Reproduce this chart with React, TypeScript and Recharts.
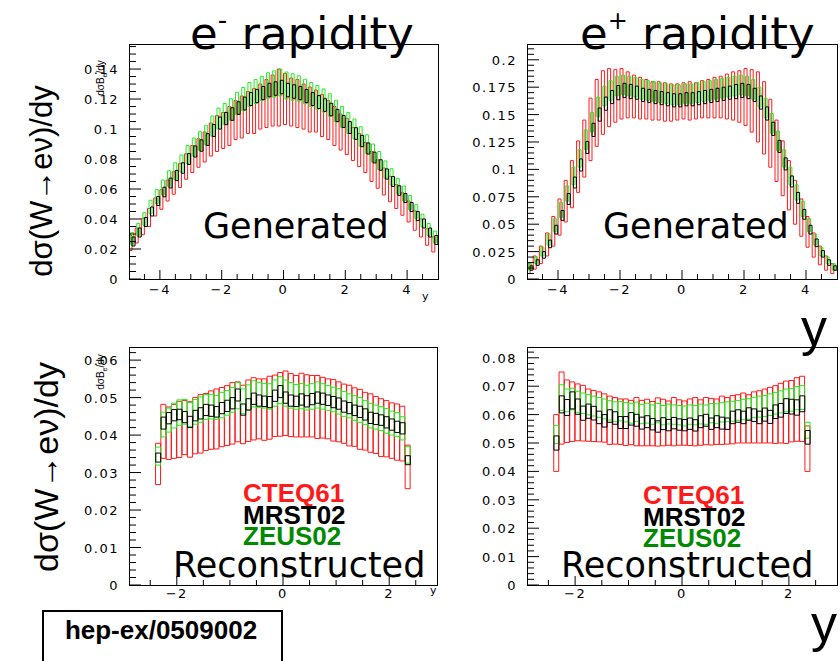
import React from 'react';
import { ComposedChart, Bar, XAxis, YAxis } from 'recharts';

const RED = '#ff1a1a';
const BLACK = '#000000';
const GREEN = '#22ee22';
const DARK_GREEN = '#008a00';
const TICK_FONT = '"DejaVu Sans", sans-serif';
const TEXT_FONT = '"Liberation Sans", Arial, sans-serif';
const HAND_FONT = '"DejaVu Sans", sans-serif';

// bin centres
const genBins = [-4.9, -4.7, -4.5, -4.3, -4.1, -3.9, -3.7, -3.5, -3.3, -3.1, -2.9, -2.7, -2.5, -2.3, -2.1, -1.9, -1.7, -1.5, -1.3, -1.1, -0.9, -0.7, -0.5, -0.3, -0.1, 0.1, 0.3, 0.5, 0.7, 0.9, 1.1, 1.3, 1.5, 1.7, 1.9, 2.1, 2.3, 2.5, 2.7, 2.9, 3.1, 3.3, 3.5, 3.7, 3.9, 4.1, 4.3, 4.5, 4.7, 4.9];
const recBins = [-2.35, -2.25, -2.15, -2.05, -1.95, -1.85, -1.75, -1.65, -1.55, -1.45, -1.35, -1.25, -1.15, -1.05, -0.95, -0.85, -0.75, -0.65, -0.55, -0.45, -0.35, -0.25, -0.15, -0.05, 0.05, 0.15, 0.25, 0.35, 0.45, 0.55, 0.65, 0.75, 0.85, 0.95, 1.05, 1.15, 1.25, 1.35, 1.45, 1.55, 1.65, 1.75, 1.85, 1.95, 2.05, 2.15, 2.25, 2.35];

// e- generated
const aBlackMid = [0.025, 0.031, 0.038, 0.045, 0.052, 0.058, 0.064, 0.069, 0.074, 0.080, 0.085, 0.089, 0.093, 0.099, 0.104, 0.107, 0.110, 0.114, 0.117, 0.120, 0.122, 0.124, 0.126, 0.127, 0.128, 0.126, 0.125, 0.124, 0.122, 0.120, 0.118, 0.116, 0.113, 0.109, 0.105, 0.101, 0.097, 0.092, 0.087, 0.081, 0.076, 0.070, 0.065, 0.059, 0.054, 0.048, 0.042, 0.037, 0.031, 0.026];
const aBlackErr = [0.003, 0.003, 0.003, 0.003, 0.003, 0.0032, 0.0033, 0.0034, 0.0035, 0.0036, 0.0037, 0.0038, 0.0039, 0.004, 0.004, 0.0041, 0.0042, 0.0042, 0.0043, 0.0043, 0.0044, 0.0044, 0.0045, 0.0045, 0.0045, 0.0045, 0.0045, 0.0044, 0.0044, 0.0043, 0.0043, 0.0042, 0.0042, 0.0041, 0.004, 0.004, 0.0039, 0.0038, 0.0037, 0.0036, 0.0035, 0.0034, 0.0033, 0.0032, 0.003, 0.003, 0.003, 0.003, 0.003, 0.003];
const aRedMid = [0.024, 0.029, 0.035, 0.041, 0.048, 0.053, 0.059, 0.064, 0.069, 0.075, 0.080, 0.084, 0.088, 0.093, 0.097, 0.099, 0.102, 0.106, 0.108, 0.111, 0.112, 0.115, 0.117, 0.119, 0.121, 0.120, 0.118, 0.117, 0.115, 0.113, 0.112, 0.109, 0.106, 0.102, 0.098, 0.095, 0.090, 0.086, 0.081, 0.075, 0.070, 0.065, 0.060, 0.055, 0.050, 0.045, 0.039, 0.034, 0.028, 0.023];
const aRedErr = [0.005, 0.005, 0.0055, 0.006, 0.006, 0.0065, 0.007, 0.0075, 0.008, 0.0085, 0.009, 0.0095, 0.010, 0.011, 0.012, 0.012, 0.013, 0.013, 0.014, 0.014, 0.015, 0.015, 0.016, 0.017, 0.019, 0.017, 0.016, 0.016, 0.015, 0.015, 0.014, 0.014, 0.013, 0.013, 0.012, 0.012, 0.011, 0.011, 0.010, 0.010, 0.0095, 0.009, 0.0085, 0.008, 0.0075, 0.007, 0.0065, 0.006, 0.0055, 0.005];
const aGreenMid = [0.027, 0.033, 0.040, 0.048, 0.055, 0.061, 0.067, 0.072, 0.077, 0.083, 0.088, 0.092, 0.096, 0.102, 0.107, 0.110, 0.113, 0.117, 0.120, 0.123, 0.125, 0.127, 0.129, 0.130, 0.131, 0.129, 0.128, 0.127, 0.125, 0.123, 0.121, 0.119, 0.116, 0.112, 0.108, 0.104, 0.100, 0.095, 0.090, 0.084, 0.079, 0.073, 0.068, 0.062, 0.057, 0.051, 0.045, 0.039, 0.033, 0.028];
const aGreenErr = [0.004, 0.004, 0.0042, 0.0045, 0.0047, 0.005, 0.0052, 0.0055, 0.0057, 0.006, 0.006, 0.0062, 0.0065, 0.0067, 0.007, 0.007, 0.0072, 0.0075, 0.0077, 0.008, 0.008, 0.0082, 0.0085, 0.0088, 0.009, 0.009, 0.0088, 0.0085, 0.0082, 0.008, 0.008, 0.0077, 0.0075, 0.0072, 0.007, 0.007, 0.0067, 0.0065, 0.0062, 0.006, 0.006, 0.0057, 0.0055, 0.0052, 0.005, 0.0047, 0.0045, 0.0042, 0.004, 0.004];

// e+ generated
const bBlackMid = [0.010, 0.015, 0.022, 0.032, 0.045, 0.058, 0.073, 0.088, 0.104, 0.120, 0.136, 0.150, 0.160, 0.166, 0.170, 0.172, 0.171, 0.170, 0.168, 0.167, 0.166, 0.165, 0.164, 0.163, 0.163, 0.164, 0.164, 0.165, 0.166, 0.167, 0.168, 0.169, 0.170, 0.171, 0.172, 0.171, 0.168, 0.161, 0.151, 0.137, 0.121, 0.105, 0.089, 0.074, 0.059, 0.045, 0.033, 0.023, 0.015, 0.010];
const bBlackErr = [0.002, 0.0025, 0.003, 0.0035, 0.004, 0.0045, 0.005, 0.005, 0.0055, 0.0055, 0.006, 0.006, 0.006, 0.006, 0.0065, 0.0065, 0.0065, 0.006, 0.006, 0.006, 0.006, 0.006, 0.006, 0.006, 0.006, 0.006, 0.006, 0.006, 0.006, 0.006, 0.006, 0.006, 0.006, 0.0065, 0.0065, 0.0065, 0.006, 0.006, 0.006, 0.006, 0.0055, 0.0055, 0.005, 0.005, 0.0045, 0.004, 0.0035, 0.003, 0.0025, 0.002];
const bRedMid = [0.0095, 0.015, 0.022, 0.0315, 0.0435, 0.0565, 0.071, 0.0865, 0.1025, 0.119, 0.1365, 0.1515, 0.161, 0.1655, 0.167, 0.169, 0.168, 0.1665, 0.165, 0.164, 0.1625, 0.1625, 0.1615, 0.161, 0.1615, 0.1625, 0.1625, 0.1625, 0.164, 0.1645, 0.1655, 0.166, 0.1665, 0.167, 0.1665, 0.166, 0.1625, 0.157, 0.147, 0.133, 0.117, 0.101, 0.0855, 0.070, 0.056, 0.043, 0.031, 0.0215, 0.0145, 0.0095];
const bRedErr = [0.0045, 0.006, 0.008, 0.0105, 0.0135, 0.0165, 0.019, 0.0215, 0.0235, 0.026, 0.0285, 0.0305, 0.029, 0.0265, 0.024, 0.023, 0.021, 0.0195, 0.019, 0.018, 0.0175, 0.0175, 0.0175, 0.017, 0.0165, 0.0165, 0.0175, 0.0165, 0.017, 0.0175, 0.0185, 0.019, 0.0205, 0.022, 0.0235, 0.026, 0.0285, 0.032, 0.033, 0.031, 0.028, 0.025, 0.0225, 0.020, 0.017, 0.014, 0.011, 0.0085, 0.0065, 0.0045];
const bGreenMid = [0.011, 0.017, 0.025, 0.036, 0.049, 0.063, 0.078, 0.094, 0.110, 0.127, 0.143, 0.157, 0.167, 0.172, 0.176, 0.177, 0.176, 0.175, 0.173, 0.172, 0.171, 0.170, 0.169, 0.168, 0.168, 0.169, 0.169, 0.170, 0.171, 0.172, 0.173, 0.174, 0.175, 0.176, 0.177, 0.176, 0.173, 0.166, 0.156, 0.142, 0.126, 0.110, 0.094, 0.079, 0.064, 0.049, 0.036, 0.025, 0.017, 0.011];
const bGreenErr = [0.003, 0.003, 0.004, 0.005, 0.006, 0.007, 0.007, 0.008, 0.008, 0.009, 0.009, 0.009, 0.009, 0.009, 0.009, 0.009, 0.009, 0.009, 0.009, 0.009, 0.009, 0.009, 0.009, 0.009, 0.009, 0.009, 0.009, 0.009, 0.009, 0.009, 0.009, 0.009, 0.009, 0.009, 0.009, 0.009, 0.009, 0.009, 0.009, 0.009, 0.009, 0.008, 0.008, 0.007, 0.007, 0.006, 0.005, 0.004, 0.003, 0.003];

// e- reconstructed
const cBlackMid = [0.034, 0.0432, 0.0445, 0.0453, 0.0455, 0.0448, 0.0435, 0.0452, 0.0458, 0.0467, 0.0465, 0.0462, 0.0472, 0.0478, 0.0485, 0.0507, 0.0468, 0.0482, 0.0497, 0.0492, 0.049, 0.0488, 0.0505, 0.0516, 0.05, 0.0492, 0.049, 0.0495, 0.049, 0.0496, 0.05, 0.0497, 0.0493, 0.0488, 0.0484, 0.0476, 0.0472, 0.0466, 0.0462, 0.0455, 0.0446, 0.0443, 0.044, 0.0434, 0.0428, 0.0422, 0.0418, 0.0333];
const cBlackErr = [0.0012, 0.0016, 0.0015, 0.0015, 0.0014, 0.0015, 0.0015, 0.0014, 0.0015, 0.0015, 0.0015, 0.0014, 0.0015, 0.0015, 0.0015, 0.0016, 0.0015, 0.0015, 0.0015, 0.0015, 0.0014, 0.0015, 0.0015, 0.0016, 0.0015, 0.0015, 0.0014, 0.0015, 0.0015, 0.0015, 0.0015, 0.0015, 0.0014, 0.0015, 0.0015, 0.0015, 0.0015, 0.0014, 0.0015, 0.0015, 0.0015, 0.0015, 0.0014, 0.0015, 0.0015, 0.0015, 0.0015, 0.0012];
const cRedMid = [0.0323, 0.041, 0.0405, 0.041, 0.0415, 0.042, 0.0415, 0.0425, 0.043, 0.0435, 0.044, 0.0443, 0.0448, 0.0452, 0.0458, 0.0462, 0.0455, 0.0465, 0.047, 0.047, 0.0468, 0.0473, 0.0478, 0.0482, 0.0485, 0.048, 0.0477, 0.048, 0.0478, 0.0477, 0.0475, 0.0473, 0.047, 0.0466, 0.0462, 0.0457, 0.0452, 0.0448, 0.0442, 0.0437, 0.0432, 0.0427, 0.042, 0.0417, 0.0412, 0.0408, 0.0404, 0.0315];
const cRedErr = [0.0055, 0.0072, 0.007, 0.0072, 0.0075, 0.0072, 0.0074, 0.0075, 0.0078, 0.0076, 0.0078, 0.008, 0.0079, 0.008, 0.0082, 0.008, 0.0078, 0.0082, 0.0083, 0.008, 0.0082, 0.0084, 0.0082, 0.0085, 0.0086, 0.0084, 0.0082, 0.0085, 0.0083, 0.0082, 0.0084, 0.0081, 0.008, 0.0082, 0.008, 0.0079, 0.0081, 0.0078, 0.008, 0.0077, 0.0078, 0.0076, 0.0077, 0.0075, 0.0074, 0.0075, 0.0073, 0.0058];
const cGreenMid = [0.0344, 0.0428, 0.044, 0.0452, 0.046, 0.0462, 0.0455, 0.0462, 0.0468, 0.0475, 0.0476, 0.0474, 0.048, 0.0486, 0.0494, 0.0505, 0.049, 0.05, 0.051, 0.0507, 0.0505, 0.0503, 0.0512, 0.052, 0.0512, 0.0506, 0.0502, 0.0504, 0.05, 0.0503, 0.0507, 0.0503, 0.0499, 0.0495, 0.049, 0.0483, 0.0478, 0.0472, 0.0467, 0.046, 0.0452, 0.0448, 0.0444, 0.0438, 0.0432, 0.0428, 0.0418, 0.0347];
const cGreenErr = [0.0024, 0.0033, 0.0032, 0.0033, 0.0034, 0.0033, 0.0032, 0.0033, 0.0034, 0.0033, 0.0033, 0.0032, 0.0034, 0.0033, 0.0033, 0.0035, 0.0033, 0.0034, 0.0035, 0.0034, 0.0033, 0.0034, 0.0035, 0.0036, 0.0035, 0.0034, 0.0033, 0.0034, 0.0033, 0.0034, 0.0035, 0.0034, 0.0033, 0.0033, 0.0034, 0.0033, 0.0032, 0.0033, 0.0033, 0.0032, 0.0033, 0.0032, 0.0032, 0.0033, 0.0032, 0.0032, 0.0031, 0.0022];

// e+ reconstructed
const dBlackMid = [0.050, 0.0636, 0.0625, 0.065, 0.0628, 0.0605, 0.0612, 0.0605, 0.059, 0.0578, 0.0595, 0.0588, 0.0572, 0.0572, 0.0585, 0.058, 0.057, 0.0575, 0.0566, 0.0558, 0.0568, 0.0563, 0.057, 0.0565, 0.0563, 0.0568, 0.0562, 0.0575, 0.058, 0.0568, 0.0575, 0.057, 0.0568, 0.059, 0.0595, 0.059, 0.0602, 0.0598, 0.059, 0.06, 0.0592, 0.061, 0.0615, 0.063, 0.0628, 0.0625, 0.0638, 0.052];
const dBlackErr = [0.0025, 0.003, 0.0028, 0.003, 0.0027, 0.0025, 0.0025, 0.0024, 0.0022, 0.0022, 0.0022, 0.0022, 0.0021, 0.0021, 0.0022, 0.0021, 0.0021, 0.0021, 0.002, 0.002, 0.0021, 0.002, 0.002, 0.002, 0.002, 0.002, 0.002, 0.0021, 0.0021, 0.002, 0.0021, 0.0021, 0.002, 0.0022, 0.0022, 0.0022, 0.0022, 0.0022, 0.0022, 0.0023, 0.0023, 0.0024, 0.0024, 0.0026, 0.0026, 0.0027, 0.0028, 0.0024];
const dRedMid = [0.050, 0.0623, 0.0612, 0.0610, 0.0608, 0.0605, 0.0598, 0.0595, 0.0592, 0.0588, 0.0580, 0.0578, 0.0575, 0.0573, 0.0572, 0.0575, 0.0570, 0.0572, 0.0568, 0.0574, 0.0572, 0.0570, 0.0575, 0.0572, 0.0570, 0.0573, 0.0575, 0.0572, 0.0577, 0.0575, 0.0575, 0.0580, 0.0578, 0.0582, 0.0585, 0.0588, 0.0585, 0.0590, 0.0592, 0.0595, 0.0598, 0.0600, 0.0605, 0.0608, 0.0612, 0.0618, 0.0620, 0.0480];
const dRedErr = [0.010, 0.0127, 0.011, 0.0105, 0.010, 0.0098, 0.0092, 0.009, 0.0088, 0.0085, 0.0085, 0.0082, 0.008, 0.0082, 0.0078, 0.0085, 0.008, 0.0082, 0.0078, 0.0085, 0.0082, 0.0078, 0.0085, 0.008, 0.0078, 0.0082, 0.0085, 0.008, 0.0083, 0.0082, 0.008, 0.0085, 0.0082, 0.0085, 0.0085, 0.0088, 0.0085, 0.009, 0.0092, 0.0095, 0.0098, 0.0102, 0.0105, 0.011, 0.0108, 0.0112, 0.0115, 0.008];
const dGreenMid = [0.053, 0.066, 0.065, 0.0655, 0.0645, 0.064, 0.0635, 0.063, 0.0625, 0.062, 0.0615, 0.061, 0.0612, 0.0608, 0.0605, 0.061, 0.0602, 0.0605, 0.06, 0.0605, 0.0598, 0.0602, 0.06, 0.0598, 0.0595, 0.06, 0.0598, 0.0602, 0.06, 0.0605, 0.0603, 0.0608, 0.061, 0.0612, 0.0615, 0.0618, 0.062, 0.0625, 0.0628, 0.063, 0.0635, 0.064, 0.0645, 0.065, 0.0652, 0.0658, 0.066, 0.0545];
const dGreenErr = [0.0032, 0.0045, 0.004, 0.0038, 0.0037, 0.0036, 0.0036, 0.0035, 0.0035, 0.0035, 0.0034, 0.0035, 0.0034, 0.0034, 0.0035, 0.0034, 0.0034, 0.0035, 0.0034, 0.0034, 0.0034, 0.0035, 0.0034, 0.0034, 0.0035, 0.0034, 0.0034, 0.0035, 0.0034, 0.0034, 0.0035, 0.0034, 0.0035, 0.0035, 0.0035, 0.0036, 0.0036, 0.0036, 0.0037, 0.0037, 0.0038, 0.0038, 0.0039, 0.004, 0.004, 0.0041, 0.0042, 0.0028];

// axis ticks
const genXTicks = [-4.5, -4, -3.5, -3, -2.5, -2, -1.5, -1, -0.5, 0, 0.5, 1, 1.5, 2, 2.5, 3, 3.5, 4, 4.5];
const genXMajor = [-4, -2, 0, 2, 4];
const recXTicks = [-2.5, -2, -1.5, -1, -0.5, 0, 0.5, 1, 1.5, 2, 2.5];
const recXMajor = [-2, 0, 2];
const aYTicks = [0, 0.005, 0.01, 0.015, 0.02, 0.025, 0.03, 0.035, 0.04, 0.045, 0.05, 0.055, 0.06, 0.065, 0.07, 0.075, 0.08, 0.085, 0.09, 0.095, 0.1, 0.105, 0.11, 0.115, 0.12, 0.125, 0.13, 0.135, 0.14, 0.145, 0.15, 0.155];
const aYMajor = [0, 0.02, 0.04, 0.06, 0.08, 0.1, 0.12, 0.14];
const bYTicks = [0, 0.005, 0.01, 0.015, 0.02, 0.025, 0.03, 0.035, 0.04, 0.045, 0.05, 0.055, 0.06, 0.065, 0.07, 0.075, 0.08, 0.085, 0.09, 0.095, 0.1, 0.105, 0.11, 0.115, 0.12, 0.125, 0.13, 0.135, 0.14, 0.145, 0.15, 0.155, 0.16, 0.165, 0.17, 0.175, 0.18, 0.185, 0.19, 0.195, 0.2, 0.205, 0.21];
const bYMajor = [0, 0.025, 0.05, 0.075, 0.1, 0.125, 0.15, 0.175, 0.2];
const cYTicks = [0, 0.002, 0.004, 0.006, 0.008, 0.01, 0.012, 0.014, 0.016, 0.018, 0.02, 0.022, 0.024, 0.026, 0.028, 0.03, 0.032, 0.034, 0.036, 0.038, 0.04, 0.042, 0.044, 0.046, 0.048, 0.05, 0.052, 0.054, 0.056, 0.058, 0.06, 0.062];
const cYMajor = [0, 0.01, 0.02, 0.03, 0.04, 0.05, 0.06];
const dYTicks = [0, 0.002, 0.004, 0.006, 0.008, 0.01, 0.012, 0.014, 0.016, 0.018, 0.02, 0.022, 0.024, 0.026, 0.028, 0.03, 0.032, 0.034, 0.036, 0.038, 0.04, 0.042, 0.044, 0.046, 0.048, 0.05, 0.052, 0.054, 0.056, 0.058, 0.06, 0.062, 0.064, 0.066, 0.068, 0.07, 0.072, 0.074, 0.076, 0.078, 0.08, 0.082];
const dYMajor = [0, 0.01, 0.02, 0.03, 0.04, 0.05, 0.06, 0.07, 0.08];

const legendNames = ['CTEQ61', 'MRST02', 'ZEUS02'];

type Band = { mid: number[]; err: number[] };

function buildRows(bins: number[], red: Band, green: Band, black: Band) {
    const pick = (s: Band, k: number) => [s.mid[k] - s.err[k], s.mid[k] + s.err[k]];
    return bins.map((bin, i) => ({
        bin,
        red: pick(red, i),
        green: pick(green, i),
        black: pick(black, i),
    }));
}

const rowsA = buildRows(genBins, { mid: aRedMid, err: aRedErr }, { mid: aGreenMid, err: aGreenErr }, { mid: aBlackMid, err: aBlackErr });
const rowsB = buildRows(genBins, { mid: bRedMid, err: bRedErr }, { mid: bGreenMid, err: bGreenErr }, { mid: bBlackMid, err: bBlackErr });
const rowsC = buildRows(recBins, { mid: cRedMid, err: cRedErr }, { mid: cGreenMid, err: cGreenErr }, { mid: cBlackMid, err: cBlackErr });
const rowsD = buildRows(recBins, { mid: dRedMid, err: dRedErr }, { mid: dGreenMid, err: dGreenErr }, { mid: dBlackMid, err: dBlackErr });

const fmt = (v: number) => (v < 0 ? '\u2212' + String(-v) : String(v));
const isIn = (list: number[], v: number) => list.some((m) => Math.abs(m - v) < 1e-9);

function makeXTick(major: number[], labelDy: number) {
    return (p: any) => {
        const v = p.payload.value;
        const big = isIn(major, v);
        return (
            <g>
                <line x1={p.x} x2={p.x} y1={p.y} y2={p.y - (big ? 9 : 5)} stroke="#000" />
                {big && (
                    <text x={p.x} y={p.y + labelDy} textAnchor="middle" fontSize={13} fontFamily={TICK_FONT} letterSpacing={1.5} fill="#000">
                        {fmt(v)}
                    </text>
                )}
            </g>
        );
    };
}

function makeYTick(major: number[]) {
    return (p: any) => {
        const v = p.payload.value;
        const big = isIn(major, v);
        return (
            <g>
                <line x1={p.x} x2={p.x + (big ? 12 : 7)} y1={p.y} y2={p.y} stroke="#000" />
                {big && (
                    <text x={p.x - 10} y={p.y + 5} textAnchor="end" fontSize={13} fontFamily={TICK_FONT} letterSpacing={1.5} fill="#000">
                        {fmt(v)}
                    </text>
                )}
            </g>
        );
    };
}

interface PanelProps {
    left: number;
    top: number;
    w: number;
    h: number;
    rows: any[];
    xDomain: [number, number];
    xTicks: number[];
    xMajor: number[];
    labelDy: number;
    yMax: number;
    yTicks: number[];
    yMajor: number[];
    barSize: number;
    barGap: number;
}

function Panel(p: PanelProps) {
    const AX = 60;
    const BX = 30;
    return (
        <div style={{ position: 'absolute', left: p.left - AX, top: p.top }}>
            <ComposedChart
                width={p.w + AX}
                height={p.h + BX}
                data={p.rows}
                margin={{ top: 0, right: 0, bottom: 0, left: 0 }}
                barGap={p.barGap}
            >
                <XAxis
                    dataKey="bin"
                    type="number"
                    domain={p.xDomain}
                    allowDataOverflow
                    ticks={p.xTicks}
                    interval={0}
                    tickSize={0}
                    tickMargin={0}
                    axisLine={false}
                    tickLine={false}
                    tick={makeXTick(p.xMajor, p.labelDy)}
                    height={BX}
                />
                <YAxis
                    type="number"
                    domain={[0, p.yMax]}
                    allowDataOverflow
                    ticks={p.yTicks}
                    interval={0}
                    tickSize={0}
                    tickMargin={0}
                    axisLine={false}
                    tickLine={false}
                    tick={makeYTick(p.yMajor)}
                    width={AX}
                />
                <Bar dataKey="red" barSize={p.barSize} fill="none" stroke={RED} strokeWidth={1} isAnimationActive={false} />
                <Bar dataKey="green" barSize={p.barSize} fill="none" stroke={GREEN} strokeWidth={1} isAnimationActive={false} />
                <Bar dataKey="black" barSize={p.barSize} fill="none" stroke={BLACK} strokeWidth={1} isAnimationActive={false} />
            </ComposedChart>
        </div>
    );
}

function Legend({ x, y }: { x: number; y: number }) {
    const colors = [RED, BLACK, DARK_GREEN];
    return (
        <g>
            {legendNames.map((n, i) => (
                <text key={n} x={x} y={y + i * 21.5} fontSize={26} fontWeight={700} fontFamily={TEXT_FONT} fill={colors[i]}>
                    {n}
                </text>
            ))}
        </g>
    );
}

export default function App() {
    return (
        <div style={{ position: 'absolute', left: 0, top: 0, width: 840, height: 661, background: '#fff', overflow: 'hidden' }}>
            <Panel left={129} top={44} w={309} h={235} rows={rowsA} xDomain={[-5, 5]} xTicks={genXTicks} xMajor={genXMajor} labelDy={15} yMax={0.1567} yTicks={aYTicks} yMajor={aYMajor} barSize={3} barGap={-1.5} />
            <Panel left={527} top={44} w={310} h={235} rows={rowsB} xDomain={[-5, 5]} xTicks={genXTicks} xMajor={genXMajor} labelDy={15} yMax={0.2144} yTicks={bYTicks} yMajor={bYMajor} barSize={3} barGap={-1.5} />
            <Panel left={129} top={347} w={308} h={238} rows={rowsC} xDomain={[-2.9, 2.9]} xTicks={recXTicks} xMajor={recXMajor} labelDy={13} yMax={0.0635} yTicks={cYTicks} yMajor={cYMajor} barSize={5} barGap={-4.9} />
            <Panel left={527} top={347} w={310} h={238} rows={rowsD} xDomain={[-2.9, 2.9]} xTicks={recXTicks} xMajor={recXMajor} labelDy={13} yMax={0.0838} yTicks={dYTicks} yMajor={dYMajor} barSize={5} barGap={-4.9} />

            <svg width={840} height={661} style={{ position: 'absolute', left: 0, top: 0, pointerEvents: 'none' }}>
                {/* frames */}
                <rect x={129.5} y={44.5} width={309} height={235} fill="none" stroke="#000" />
                <rect x={527.5} y={44.5} width={310} height={235} fill="none" stroke="#000" />
                <rect x={129.5} y={347.5} width={308} height={238} fill="none" stroke="#000" />
                <rect x={527.5} y={347.5} width={310} height={238} fill="none" stroke="#000" />

                {/* titles */}
                <text x={190} y={49} fontSize={45} fontFamily={HAND_FONT} fill="#000">
                    e<tspan fontSize={26} dy={-20}>-</tspan>
                    <tspan dy={20}>{'\u00a0rapidity'}</tspan>
                </text>
                <text x={580} y={49} fontSize={45} fontFamily={HAND_FONT} fill="#000">
                    e<tspan fontSize={24} dy={-20}>+</tspan>
                    <tspan dy={20}>{'\u00a0rapidity'}</tspan>
                </text>

                <text x={203} y={238} fontSize={35} fontFamily={HAND_FONT} fill="#000">Generated</text>
                <text x={603} y={238} fontSize={35} fontFamily={HAND_FONT} fill="#000">Generated</text>
                <text x={173} y={577} fontSize={35} fontFamily={HAND_FONT} fill="#000">Reconstructed</text>
                <text x={561} y={577} fontSize={35} fontFamily={HAND_FONT} fill="#000">Reconstructed</text>

                <Legend x={243} y={502} />
                <Legend x={643} y={504} />

                {/* y axis titles */}
                <text transform="translate(52,181) rotate(-90)" textAnchor="middle" fontSize={31} fontFamily={TEXT_FONT} fill="#000">
                    dσ(W→eν)/dy
                </text>
                <text transform="translate(58,467) rotate(-90)" textAnchor="middle" fontSize={34} fontFamily={TEXT_FONT} fill="#000">
                    dσ(W→eν)/dy
                </text>
                <text transform="translate(104,78) rotate(-90)" textAnchor="middle" fontSize={10} fontFamily={TEXT_FONT} fill="#000">
                    dσB<tspan fontSize={7} dy={3}>e</tspan><tspan dy={-3}>/dy</tspan>
                </text>
                <text transform="translate(104,372) rotate(-90)" textAnchor="middle" fontSize={10} fontFamily={TEXT_FONT} fill="#000">
                    dσB<tspan fontSize={7} dy={3}>e</tspan><tspan dy={-3}>/dy</tspan>
                </text>

                {/* x axis titles */}
                <text x={422} y={300} fontSize={11} fontFamily={TICK_FONT} fill="#000">y</text>
                <text x={430} y={594} fontSize={11} fontFamily={TICK_FONT} fill="#000">y</text>
                <text x={801} y={345} fontSize={52} fontFamily={TEXT_FONT} fill="#000">y</text>
                <text x={811} y={641} fontSize={52} fontFamily={TEXT_FONT} fill="#000">y</text>

                {/* reference box */}
                <rect x={43} y={611} width={239} height={60} fill="none" stroke="#000" strokeWidth={2} />
                <text x={161} y={639} textAnchor="middle" fontSize={26} fontWeight={700} fontFamily={TEXT_FONT} fill="#000">
                    hep-ex/0509002
                </text>
            </svg>
        </div>
    );
}
